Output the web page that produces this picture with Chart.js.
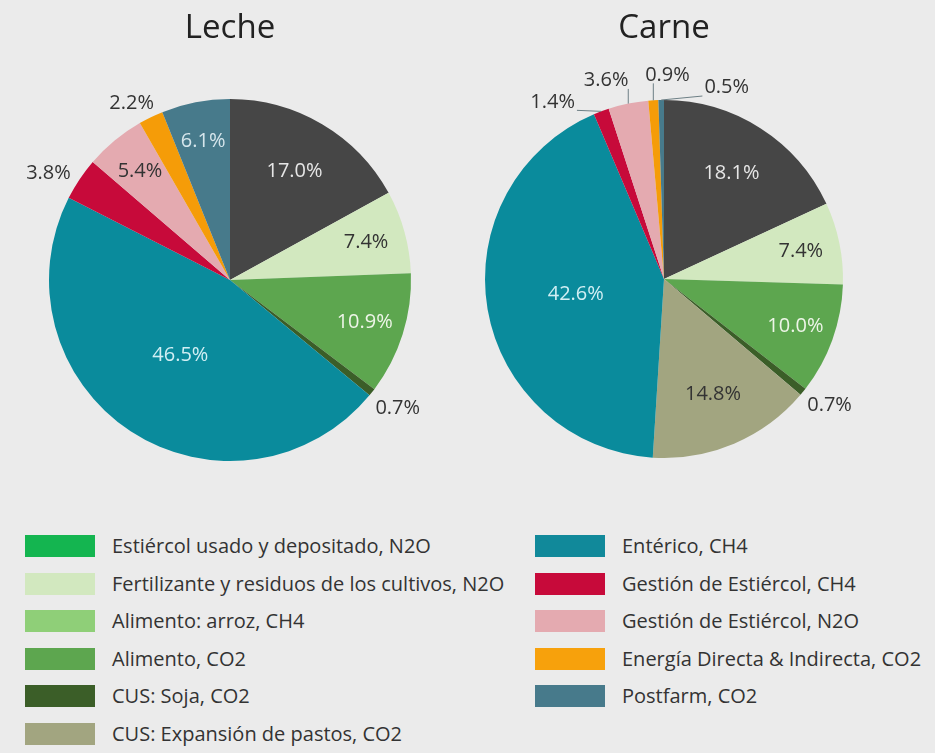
<!DOCTYPE html>
<html lang="es">
<head>
  <meta charset="UTF-8">
  <title>Leche y Carne</title>
  <script src="https://cdn.jsdelivr.net/npm/chart.js"></script>
  <style>
    body { margin: 0; background: #ebebeb; font-family: 'Open Sans', sans-serif; }
    #wrap { position: relative; width: 935px; height: 753px; overflow: hidden; }
    #lecheChart { position: absolute; left: 0; top: 0; }
    #carneChart { position: absolute; left: 444px; top: 0; }
    .legend { position: absolute; top: 535px; list-style: none; margin: 0; padding: 0; }
    .legend li { height: 37.6px; line-height: 22px; font-size: 20px; color: #333; white-space: nowrap; }
    .legend .sw { display: inline-block; width: 70px; height: 22px; margin-right: 17px; vertical-align: top; }
  </style>
</head>
<body>
  <div id="wrap">
    <canvas id="lecheChart" width="460" height="480"></canvas>
    <canvas id="carneChart" width="440" height="480"></canvas>
    <ul class="legend" id="legLeft" style="left:25px"></ul>
    <ul class="legend" id="legRight" style="left:535px"></ul>
  </div>
  <script>
    // categories (same order in both pies, clockwise from 12 o'clock)
    const categories = [
      'Estiércol usado y depositado, N2O',
      'Fertilizante y residuos de los cultivos, N2O',
      'Alimento: arroz, CH4',
      'Alimento, CO2',
      'CUS: Soja, CO2',
      'CUS: Expansión de pastos, CO2',
      'Entérico, CH4',
      'Gestión de Estiércol, CH4',
      'Gestión de Estiércol, N2O',
      'Energía Directa & Indirecta, CO2',
      'Postfarm, CO2'
    ];
    const leche = [17.0, 7.4, 0, 10.9, 0.7, 0, 46.5, 3.8, 5.4, 2.2, 6.1];
    const carne = [18.1, 7.4, 0, 10.0, 0.7, 14.8, 42.6, 1.4, 3.6, 0.9, 0.5];

    // styles
    const sliceColors = ['#464646', '#d2e8bf', '#8fcf78', '#5da64f', '#3b5e28', '#a2a580',
                         '#0a8b9c', '#c70a3a', '#e4aab0', '#f59c08', '#477a8b'];
    const legendColors = ['#14b550', '#d2e8bf', '#8fcf78', '#5da64f', '#3b5e28', '#a2a580',
                          '#11899a', '#c70a3a', '#e4aab0', '#f7a10c', '#477a8b'];
    const labelColors = ['#e6e6e6', '#333', '#333', '#eef5e8', '#eee', '#333',
                         '#d2eff4', '#fff', '#333', '#333', '#d6e6ec'];

    // percentage labels, inside or outside the slice
    const pctLabels = {
      id: 'pctLabels',
      afterDatasetsDraw(chart, args, opts) {
        const ctx = chart.ctx;
        const meta = chart.getDatasetMeta(0);
        const values = chart.data.datasets[0].data;
        ctx.save();
        ctx.font = '20px "Open Sans"';
        ctx.textBaseline = 'middle';
        ctx.textAlign = 'center';
        meta.data.forEach((arc, i) => {
          const v = values[i];
          if (!v) return;
          const p = arc.getProps(['x', 'y', 'startAngle', 'endAngle', 'outerRadius'], true);
          const mid = (p.startAngle + p.endAngle) / 2;
          const dx = Math.cos(mid), dy = Math.sin(mid);
          const text = v.toFixed(1) + '%';
          const out = opts.outside[i];
          if (!out) {
            const f = v > 30 ? 0.5 : v > 12 ? 0.7 : 0.78;
            ctx.fillStyle = labelColors[i];
            ctx.fillText(text, p.x + dx * p.outerRadius * f, p.y + dy * p.outerRadius * f);
            return;
          }
          const w = ctx.measureText(text).width, h = 15;
          const R = p.outerRadius + 8;
          const cx = p.x + dx * R + dx * w / 2 + (out.dx || 0);
          const cy = p.y + dy * R + dy * h / 2 + (out.dy || 0);
          if (out.line) {
            const ex = p.x + dx * p.outerRadius, ey = p.y + dy * p.outerRadius;
            const lx = Math.max(cx - w / 2 - 2, Math.min(ex, cx + w / 2 + 2));
            const ly = Math.max(cy - h / 2 - 1, Math.min(ey, cy + h / 2 + 1));
            ctx.strokeStyle = '#6d7f85';
            ctx.lineWidth = 1;
            ctx.beginPath();
            ctx.moveTo(ex, ey);
            ctx.lineTo(lx, ly);
            ctx.stroke();
          }
          ctx.fillStyle = '#333';
          ctx.fillText(text, cx, cy);
        });
        ctx.restore();
      }
    };

    function makePie(id, title, values, pad, titleGap, outside) {
      return new Chart(document.getElementById(id), {
        type: 'pie',
        data: {
          labels: categories,
          datasets: [{ data: values, backgroundColor: sliceColors, borderWidth: 0 }]
        },
        options: {
          responsive: false,
          animation: false,
          layout: { padding: pad },
          plugins: {
            legend: { display: false },
            tooltip: { enabled: false },
            title: {
              display: true,
              text: title,
              color: '#222',
              font: { family: 'Open Sans', size: 33, weight: 'normal' },
              padding: { top: 0, bottom: titleGap }
            },
            pctLabels: { outside: outside }
          }
        },
        plugins: [pctLabels]
      });
    }

    makePie('lecheChart', 'Leche', leche,
      { top: 9, left: 49, right: 49, bottom: 19 }, 50.4,
      { 4: { dx: 2, dy: 6 }, 7: { dx: -6, dy: 3 }, 9: { dx: -6, dy: 0 } });

    makePie('carneChart', 'Carne', carne,
      { top: 9, left: 41, right: 41, bottom: 22 }, 51.4,
      { 4: { dx: 3, dy: 4 },
        7: { dx: -38, dy: 5, line: true },
        8: { dx: -16, dy: -8, line: true },
        9: { dx: 16, dy: -10, line: true },
        10: { dx: 66, dy: 3, line: true } });

    // legend, two columns
    categories.forEach((name, i) => {
      const li = document.createElement('li');
      li.innerHTML = '<span class="sw" style="background:' + legendColors[i] + '"></span>' + name;
      document.getElementById(i < 6 ? 'legLeft' : 'legRight').appendChild(li);
    });
  </script>
</body>
</html>
